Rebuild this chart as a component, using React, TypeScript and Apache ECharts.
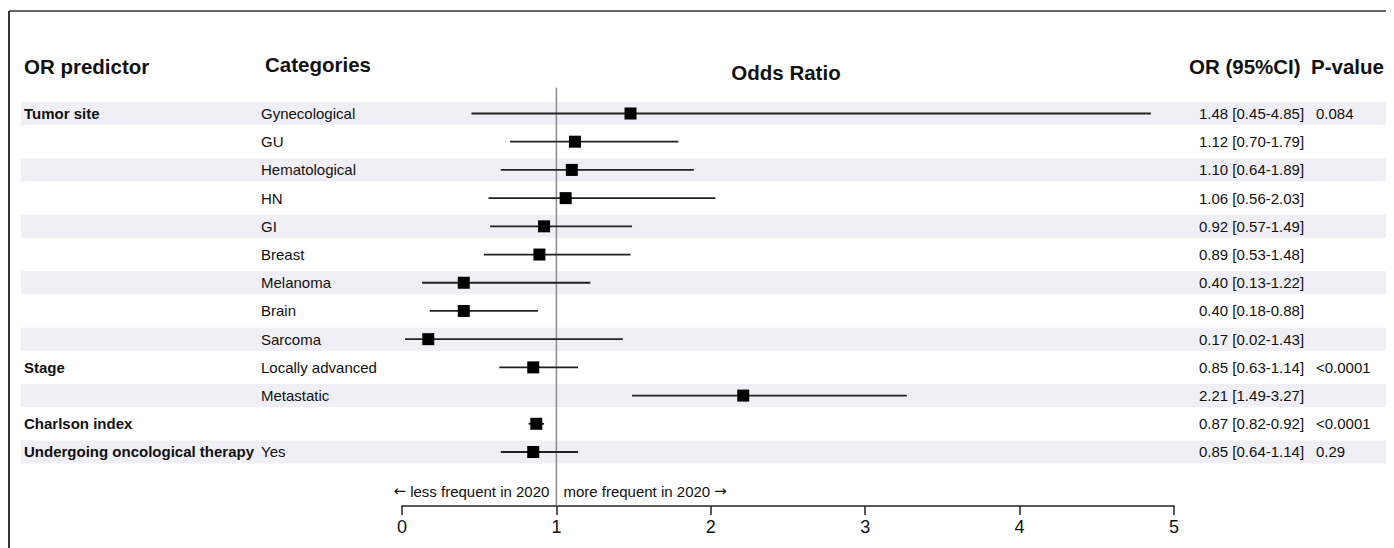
import React, { useEffect, useRef } from "react";
import * as echarts from "echarts";

const groups = ["Tumor site", "", "", "", "", "", "", "", "", "Stage", "", "Charlson index", "Undergoing oncological therapy"];
const categories = ["Gynecological", "GU", "Hematological", "HN", "GI", "Breast", "Melanoma", "Brain", "Sarcoma", "Locally advanced", "Metastatic", "", "Yes"];
const oddsRatio = [1.48, 1.12, 1.10, 1.06, 0.92, 0.89, 0.40, 0.40, 0.17, 0.85, 2.21, 0.87, 0.85];
const ciLow = [0.45, 0.70, 0.64, 0.56, 0.57, 0.53, 0.13, 0.18, 0.02, 0.63, 1.49, 0.82, 0.64];
const ciHigh = [4.85, 1.79, 1.89, 2.03, 1.49, 1.48, 1.22, 0.88, 1.43, 1.14, 3.27, 0.92, 1.14];
const pValues = ["0.084", "", "", "", "", "", "", "", "", "<0.0001", "", "<0.0001", "0.29"];
const xTicks = [0, 1, 2, 3, 4, 5];
const headers = { predictor: "OR predictor", categories: "Categories", title: "Odds Ratio", or: "OR (95%CI)", p: "P-value" };
const arrowLeft = "{a|←} less frequent in 2020";
const arrowRight = "more frequent in 2020 {a|→}";

const FONT = "'Liberation Sans', Arial, Helvetica, sans-serif";

export default function App() {
  const ref = useRef<HTMLDivElement>(null);
  useEffect(() => {
    if (!ref.current) return;
    const chart = echarts.init(ref.current, null, { renderer: "svg" });
    const rows = categories.map((_, i) => String(i));
    const axisOffset = 40;
    const hFont = `bold 20.5px ${FONT}`;
    const rich = { a: { fontFamily: "'DejaVu Sans', sans-serif", fontSize: 15, fill: "#111" } };

    const option: any = {
      animation: false,
      backgroundColor: "#ffffff",
      grid: { left: 394, top: 91.4, width: 772, height: 366.7, outerBoundsMode: "none", containLabel: false },
      xAxis: {
        type: "value",
        min: xTicks[0],
        max: xTicks[xTicks.length - 1],
        interval: 1,
        offset: axisOffset,
        splitLine: { show: false },
        axisLine: { show: true, onZero: false, lineStyle: { color: "#222", width: 1.5 } },
        axisTick: { show: true, length: 9, lineStyle: { color: "#222", width: 1.5 } },
        axisLabel: { fontSize: 18, color: "#111", margin: 12, fontFamily: FONT },
      },
      yAxis: { type: "category", data: rows, inverse: true, show: false },
      graphic: [
        { type: "line", shape: { x1: 1, y1: 3, x2: 1386, y2: 3 }, style: { stroke: "#333", lineWidth: 1.5 } },
        { type: "line", shape: { x1: 1, y1: 3, x2: 1, y2: 540 }, style: { stroke: "#333", lineWidth: 2 } },
        { type: "text", x: 16, y: 58, style: { text: headers.predictor, fill: "#111", font: hFont, verticalAlign: "middle", align: "left" } },
        { type: "text", x: 257, y: 56, style: { text: headers.categories, fill: "#111", font: hFont, verticalAlign: "middle", align: "left" } },
        { type: "text", x: 778, y: 64, style: { text: headers.title, fill: "#111", font: hFont, verticalAlign: "middle", align: "center" } },
        { type: "text", x: 1181, y: 58, style: { text: headers.or, fill: "#111", font: hFont, verticalAlign: "middle", align: "left" } },
        { type: "text", x: 1303, y: 58, style: { text: headers.p, fill: "#111", font: hFont, verticalAlign: "middle", align: "left" } },
      ],
      series: [
        {
          type: "custom",
          z: 1,
          clip: false,
          silent: true,
          data: rows.map((_, i) => [0, i]).filter((d) => d[1] % 2 === 0),
          renderItem: (params: any, api: any) => {
            const y = api.coord([0, api.value(1)])[1];
            return {
              type: "rect",
              shape: { x: 13, y: y - 11.5, width: api.getWidth() - 13, height: 23 },
              style: { fill: "#efeff5" },
            };
          },
        },
        {
          type: "custom",
          z: 2,
          clip: false,
          silent: true,
          data: [[1, 0]],
          renderItem: (params: any, api: any) => {
            const x = api.coord([api.value(0), 0])[0];
            const cs = params.coordSys;
            const yEnd = cs.y + cs.height + axisOffset;
            return {
              type: "group",
              children: [
                { type: "line", shape: { x1: x, y1: cs.y - 12, x2: x, y2: yEnd }, style: { stroke: "#8c8c8c", lineWidth: 1.5 } },
                { type: "text", x: x - 7, y: yEnd - 15, style: { text: arrowLeft, rich, fill: "#111", font: `15px ${FONT}`, align: "right", verticalAlign: "middle" } },
                { type: "text", x: x + 7, y: yEnd - 15, style: { text: arrowRight, rich, fill: "#111", font: `15px ${FONT}`, align: "left", verticalAlign: "middle" } },
              ],
            };
          },
        },
        {
          type: "custom",
          z: 3,
          clip: false,
          silent: true,
          encode: { x: 0, y: 1 },
          data: oddsRatio.map((v, i) => [v, i, ciLow[i], ciHigh[i]]),
          renderItem: (params: any, api: any) => {
            const c = api.coord([api.value(0), api.value(1)]);
            const lo = api.coord([api.value(2), api.value(1)]);
            const hi = api.coord([api.value(3), api.value(1)]);
            const s = 12;
            return {
              type: "group",
              children: [
                { type: "line", shape: { x1: lo[0], y1: c[1], x2: hi[0], y2: c[1] }, style: { stroke: "#222", lineWidth: 1.8 } },
                { type: "rect", shape: { x: c[0] - s / 2, y: c[1] - s / 2, width: s, height: s }, style: { fill: "#000" } },
              ],
            };
          },
        },
        {
          type: "custom",
          z: 4,
          clip: false,
          silent: true,
          data: rows.map((_, i) => [0, i]),
          renderItem: (params: any, api: any) => {
            const i = params.dataIndex;
            const y = api.coord([0, api.value(1)])[1];
            const orText = `${oddsRatio[i].toFixed(2)} [${ciLow[i].toFixed(2)}-${ciHigh[i].toFixed(2)}]`;
            const mk = (x: number, text: string, bold: boolean) => ({
              type: "text",
              x,
              y,
              style: { text, fill: "#111", font: `${bold ? "bold " : ""}15px ${FONT}`, align: "left", verticalAlign: "middle" },
            });
            return {
              type: "group",
              children: [mk(16, groups[i], true), mk(253, categories[i], false), mk(1191, orText, false), mk(1308, pValues[i], false)],
            };
          },
        },
      ],
    };
    chart.setOption(option);
    return () => chart.dispose();
  }, []);
  return <div ref={ref} style={{ width: 1386, height: 540 }} />;
}
